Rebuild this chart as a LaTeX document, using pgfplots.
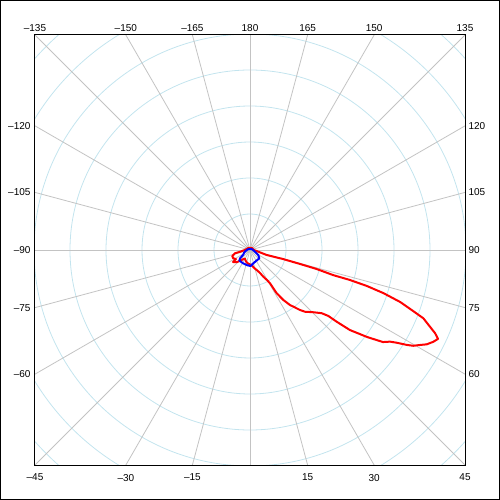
\documentclass[border=0pt]{standalone}
\usepackage{pgfplots}
\usepackage{pgfplotstable}
\pgfplotsset{compat=1.18}
\usepackage{fontspec}
\setmainfont{Liberation Sans}
\definecolor{gridgray}{RGB}{195,195,195}
\definecolor{gridblue}{RGB}{195,228,238}

\pgfplotstableread{
a r
-180 2
-150 2.5
-120 3
-100 4
-90 5
-85 7
-80 10
-77.6 15.4
-71 18.7
-64.8 18.8
-60 17.5
-57 16.8
-54.8 20.8
-50 19
-47 17.7
-42 14
-35 11
-31 10
-20 12
-9.8 13.5
0 14.5
6.3 15.1
12 18
18.5 21.1
23.5 25
26.5 29.8
29.5 34.5
31 38.9
31.7 50.9
33.7 60
36 68
37.4 71.3
39.8 78.1
41.7 82.7
45.5 88.8
48.6 95.6
49.9 102.4
50.4 112.5
51.3 128
53.4 146
55.3 161.7
56.8 167.4
57.7 173.5
58.8 183.2
59.6 189.3
60.8 194.7
61.9 200.3
63.4 205
64.7 208
65.8 202.9
66.9 195.7
68.5 186.3
69.5 174
70.9 159
72.1 140
72.9 122
73.3 104
73.2 87
74.1 69
74.4 52
74.7 34
73.3 17.4
78 9
85 5
90 4
120 3
150 2.5
180 2
}\redtab

\pgfplotstableread{
a r
-180 0.7
-150 1
-120 1.8
-90 3
-75 5
-65 6.5
-55 8.4
-50 13
-45 15
-27 15
-10 15.5
2.5 16
14 13.7
30 12.5
48 12.5
59 9.7
71 5.3
90 3
120 1.8
150 1
180 0.7
}\bluetab

\begin{document}
\begin{tikzpicture}
\path[use as bounding box] (-250pt,-250pt) rectangle (250pt,250pt);
\begin{axis}[
  at={(0,0)}, anchor=center,
  width=430pt, height=430pt, scale only axis,
  xmin=-215, xmax=215, ymin=-215, ymax=215,
  axis line style={black, line width=1pt},
  major tick length=0pt,
  xtick={-215,-124.13,-57.61,57.61,124.13,215},
  xticklabels={–45,–30,–15,15,30,45},
  ytick={-124.13,-57.61,0,57.61,124.13},
  yticklabels={–60,–75,–90,–105,–120},
  xtick pos=bottom, ytick pos=left,
  ticklabel style={font=\fontsize{10}{12}\selectfont},
  xticklabel style={yshift=-5.5pt},
  yticklabel style={xshift=-1pt},
  clip=true,
]
\pgfplotsinvokeforeach{36,72,108,144,180,216,252,288}{
  \draw[gridblue, line width=0.8pt] (axis cs:0,0) circle [radius=#1];
}
\pgfplotsinvokeforeach{0,15,30,45,60,75,90,105,120,135,150,165,180,195,210,225,240,255,270,285,300,315,330,345}{
  \draw[gridgray, line width=0.8pt] (axis cs:0,0) -- (axis cs:{400*sin(#1)},{-400*cos(#1)});
}
\addplot[red, line width=2pt, line join=round] table[x expr={\thisrow{r}*sin(\thisrow{a})}, y expr={-\thisrow{r}*cos(\thisrow{a})}] {\redtab};
\addplot[blue, line width=2pt, line join=round] table[x expr={\thisrow{r}*sin(\thisrow{a})}, y expr={-\thisrow{r}*cos(\thisrow{a})}] {\bluetab};
\end{axis}
\begin{axis}[
  at={(0,0)}, anchor=center,
  width=430pt, height=430pt, scale only axis,
  xmin=-215, xmax=215, ymin=-215, ymax=215,
  axis line style={black, line width=1pt},
  major tick length=0pt,
  xtick={-215,-124.13,-57.61,0,57.61,124.13,215},
  xticklabels={–135,–150,–165,180,165,150,135},
  ytick={-124.13,-57.61,0,57.61,124.13},
  yticklabels={60,75,90,105,120},
  xtick pos=top, ytick pos=right,
  xticklabel pos=right, yticklabel pos=right,
  ticklabel style={font=\fontsize{10}{12}\selectfont},
  yticklabel style={xshift=0pt},
]
\end{axis}
\draw[black, line width=1pt] (-249.5pt,-249.5pt) rectangle (249.5pt,249.5pt);
\end{tikzpicture}
\end{document}
